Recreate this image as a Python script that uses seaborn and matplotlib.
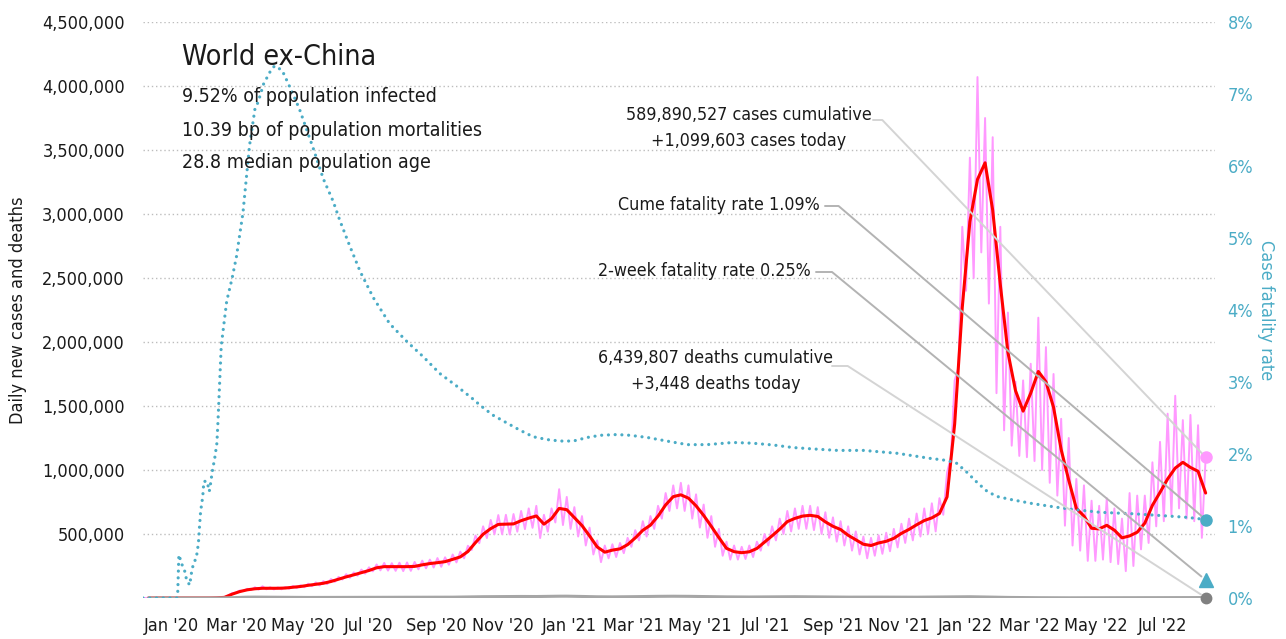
import numpy as np
import pandas as pd
import seaborn as sns
import matplotlib.pyplot as plt
import matplotlib.dates as mdates
from matplotlib import font_manager
from matplotlib.ticker import FuncFormatter

# 7-day average of daily new cases (thousands), one value per week from 6 Jan 2020
avg_cases = [0, 0, 0, 0, 0, 0, 0, 0, 0, 1,
             5, 30, 50, 64, 72, 76, 76, 76, 78, 84,
             90, 99, 107, 115, 129, 147, 165, 181, 198, 215,
             236, 245, 245, 245, 245, 247, 259, 269, 276, 284,
             302, 321, 363, 433, 498, 542, 575, 577, 579, 604,
             624, 641, 577, 620, 700, 690, 628, 566, 485, 399,
             358, 374, 384, 417, 469, 529, 569, 640, 727, 792,
             806, 780, 720, 645, 560, 472, 388, 362, 354, 361,
             387, 436, 486, 538, 597, 622, 640, 646, 637, 595,
             560, 535, 490, 455, 420, 410, 430, 443, 466, 505,
             536, 572, 605, 626, 660, 790, 1360, 2270, 2940, 3270,
             3400, 3030, 2450, 1920, 1620, 1460, 1600, 1770, 1690, 1490,
             1160, 920, 700, 640, 545, 540, 568, 530, 470, 485,
             514, 585, 724, 825, 930, 1015, 1060, 1020, 990, 820]

# daily new cases (thousands): weekly low day and high day
daily_lo = [0, 0, 0, 0, 0, 0, 0, 0, 0, 0,
            2, 20, 42, 55, 62, 66, 68, 67, 68, 72,
            78, 84, 92, 98, 108, 126, 144, 158, 174, 190,
            208, 216, 214, 212, 210, 212, 224, 232, 238, 244,
            260, 278, 310, 375, 428, 468, 498, 498, 496, 518,
            538, 548, 468, 518, 590, 570, 540, 480, 410, 340,
            280, 310, 320, 350, 400, 450, 480, 540, 620, 680,
            700, 680, 620, 550, 470, 400, 330, 300, 300, 305,
            320, 370, 410, 450, 500, 520, 540, 540, 530, 500,
            470, 440, 410, 370, 340, 310, 330, 345, 365, 395,
            430, 450, 480, 500, 520, 650, 1100, 1800, 2400, 2500,
            2700, 2300, 1600, 1310, 1190, 1110, 1100, 1070, 1000, 900,
            800, 565, 410, 370, 290, 290, 300, 280, 265, 210,
            250, 380, 430, 560, 600, 650, 700, 620, 600, 470]
daily_hi = [0, 0, 0, 0, 0, 0, 0, 0, 1, 2,
            8, 38, 58, 72, 84, 92, 84, 83, 86, 94,
            100, 112, 122, 132, 148, 165, 186, 200, 222, 240,
            262, 274, 272, 276, 278, 282, 292, 300, 312, 318,
            340, 362, 408, 488, 560, 610, 648, 650, 656, 680,
            700, 720, 650, 700, 850, 790, 710, 640, 550, 450,
            410, 420, 430, 470, 530, 600, 640, 720, 820, 880,
            900, 880, 810, 730, 640, 540, 440, 410, 400, 410,
            440, 500, 560, 620, 680, 700, 720, 720, 710, 670,
            630, 600, 560, 520, 480, 470, 490, 510, 540, 580,
            620, 660, 700, 740, 780, 980, 1700, 2900, 3440, 4070,
            3750, 3600, 2900, 2230, 1690, 1700, 1830, 2190, 1960, 1750,
            1400, 1250, 930, 880, 760, 720, 780, 700, 620, 820,
            800, 800, 1060, 1220, 1440, 1580, 1390, 1430, 1350, 1100]

# daily deaths (thousands), weekly
deaths = [0, 0, 0, 0, 0, 0, 0, 0, 0.05, 0.3,
          1.0, 2.5, 4.5, 6.5, 7.0, 6.5, 6.0, 5.3, 4.8, 4.5,
          4.3, 4.3, 4.4, 4.6, 4.8, 4.9, 5.0, 5.2, 5.4, 5.6,
          5.8, 5.8, 5.7, 5.6, 5.5, 5.4, 5.3, 5.4, 5.6, 5.8,
          6.5, 7.5, 8.5, 9.5, 10.0, 10.5, 11.0, 11.5, 11.8, 12.0,
          11.8, 11.5, 12.5, 13.5, 14.0, 14.2, 13.5, 12.0, 10.5, 9.5,
          9.0, 8.8, 9.2, 9.8, 10.5, 11.5, 12.5, 13.0, 13.5, 13.8,
          13.5, 13.0, 12.0, 11.0, 10.0, 9.5, 8.8, 8.3, 8.0, 7.8,
          8.2, 8.8, 9.5, 10.0, 10.2, 10.0, 9.5, 8.8, 8.2, 7.6,
          7.0, 6.8, 6.8, 7.0, 7.2, 7.2, 7.0, 6.8, 6.5, 6.5,
          6.3, 6.4, 7.0, 7.5, 8.5, 9.5, 10.0, 10.2, 9.8, 9.0,
          8.0, 6.8, 5.5, 4.5, 3.8, 3.3, 2.8, 2.4, 2.0, 1.8,
          1.7, 1.6, 1.7, 1.8, 1.9, 2.0, 2.0, 2.1, 2.2, 2.3,
          2.3, 2.4, 2.5, 2.6, 2.8, 3.0, 3.3, 3.4, 3.5, 3.448]

# case fatality rate (%), days counted from 1 Jan 2020
cfr_day = [0, 31, 32, 33, 36, 39, 40, 43, 45, 47,
           49, 51, 52, 53, 55, 56, 59, 61, 62, 64,
           66, 68, 69, 70, 72, 77, 82, 86, 92, 98,
           103, 106, 111, 117, 121, 128, 132, 138, 144, 151,
           157, 166, 175, 181, 190, 200, 212, 227, 243, 258,
           273, 289, 304, 310, 322, 335, 347, 359, 372, 384,
           396, 409, 421, 436, 448, 464, 482, 501, 519, 543,
           561, 580, 598, 617, 639, 663, 694, 724, 740, 749,
           758, 768, 777, 786, 798, 819, 850, 881, 911, 942,
           961, 978]
cfr_pct = [0, 0, 0.09, 0.6, 0.46, 0.35, 0.25, 0.18, 0.39, 0.5,
           0.55, 0.76, 0.99, 1.2, 1.41, 1.62, 1.62, 1.48, 1.57, 1.78,
           1.94, 2.15, 2.45, 2.8, 3.5, 4.12, 4.44, 4.74, 5.35, 6.28,
           6.79, 6.89, 7.14, 7.31, 7.39, 7.33, 7.2, 7.0, 6.79, 6.49,
           6.23, 5.82, 5.51, 5.25, 4.9, 4.53, 4.17, 3.81, 3.56, 3.35,
           3.12, 2.94, 2.76, 2.68, 2.54, 2.43, 2.33, 2.24, 2.20, 2.18,
           2.18, 2.23, 2.26, 2.27, 2.26, 2.23, 2.18, 2.13, 2.13, 2.16,
           2.15, 2.125, 2.09, 2.07, 2.05, 2.05, 2.01, 1.94, 1.91, 1.87,
           1.75, 1.60, 1.48, 1.41, 1.37, 1.31, 1.24, 1.19, 1.17, 1.14,
           1.12, 1.09]
two_week_cfr = 0.25

title = 'World ex-China'
subtitle = ['9.52% of population infected',
            '10.39 bp of population mortalities',
            '28.8 median population age']
notes = {'cases': '589,890,527 cases cumulative\n+1,099,603 cases today',
         'cume': 'Cume fatality rate 1.09%',
         'two_week': '2-week fatality rate 0.25%',
         'deaths': '6,439,807 deaths cumulative\n+3,448 deaths today'}

PINK, RED, TEAL, GREY = '#ff99ff', '#ff0000', '#4bacc6', '#a6a6a6'
W, H = 1286, 639

start = pd.Timestamp('2020-01-01')
week_dates = start + pd.to_timedelta(5 + 7 * np.arange(len(avg_cases)), unit='D')
lo_dates = week_dates - pd.Timedelta(hours=84)
pink_dates = np.ravel(np.column_stack([lo_dates.values, week_dates.values]))
pink_vals = np.ravel(np.column_stack([daily_lo, daily_hi])) * 1000
cfr_dates = start + pd.to_timedelta(cfr_day, unit='D')
last = mdates.date2num(week_dates[-1])

# a narrow face if one is installed, like the condensed font of the original
narrow = [f for f in font_manager.fontManager.ttflist
          if ('Condensed' in f.name or 'Narrow' in f.name
              or f.stretch in ('condensed', 'semi-condensed')) and f.style == 'normal']
sns.set_theme(style='white')
if narrow:
    plt.rcParams['font.family'] = [narrow[0].name, 'DejaVu Sans']
    plt.rcParams['font.stretch'] = narrow[0].stretch
else:
    plt.rcParams['font.family'] = ['Roboto', 'DejaVu Sans']
plt.rcParams['text.color'] = '#1a1a1a'

fig = plt.figure(figsize=(W / 100, H / 100), dpi=100)
ax = fig.add_axes([143 / W, 41 / H, 1072 / W, 576 / H])
ax2 = ax.twinx()

sns.lineplot(x=pink_dates, y=pink_vals, ax=ax, color=PINK, lw=1.4, errorbar=None)
sns.lineplot(x=week_dates, y=np.array(avg_cases) * 1000, ax=ax, color=RED, lw=2.2, errorbar=None)
sns.lineplot(x=week_dates, y=np.array(deaths) * 1000, ax=ax, color=GREY, lw=2.2, errorbar=None)
sns.lineplot(x=cfr_dates, y=cfr_pct, ax=ax2, color=TEAL, lw=2.3, errorbar=None,
             linestyle=(0, (0.01, 2.1)), dash_capstyle='round')

# end-of-series markers
ax.plot([last], [daily_hi[-1] * 1000], 'o', color=PINK, ms=8, clip_on=False, zorder=6)
ax.plot([last], [deaths[-1] * 1000], 'o', color='#808080', ms=7.5, clip_on=False, zorder=6)
ax2.plot([last], [cfr_pct[-1]], 'o', color=TEAL, ms=8, clip_on=False, zorder=6)
ax2.plot([last], [two_week_cfr], '^', color=TEAL, ms=10, clip_on=False, zorder=6)

ax.set_xlim(start, start + pd.Timedelta(days=986.6))
ax.set_ylim(0, 4500000)
ax2.set_ylim(0, 8)

months = pd.date_range('2020-01-01', '2022-07-01', freq='2MS')
ax.set_xticks(months + pd.Timedelta(days=26))
ax.set_xticklabels([m.strftime("%b '%y") for m in months])
ax.set_yticks(range(500000, 4500001, 500000))
ax.yaxis.set_major_formatter(FuncFormatter(lambda v, p: f'{v:,.0f}'))
ax2.set_yticks(range(0, 9))
ax2.yaxis.set_major_formatter(FuncFormatter(lambda v, p: f'{v:.0f}%'))

ax.yaxis.grid(True, linestyle=(0, (1, 2)), color='#bdbdbd', lw=1)
ax.xaxis.grid(False)
ax2.grid(False)
for a in (ax, ax2):
    for s in a.spines.values():
        s.set_visible(False)
ax.tick_params(axis='both', length=0, labelsize=13, colors='#1a1a1a')
ax.tick_params(axis='y', pad=13)
ax.tick_params(axis='x', pad=14)
ax2.tick_params(axis='y', length=0, labelsize=13, labelcolor=TEAL, pad=9)

ax.set_xlabel('')
ax.set_ylabel('Daily new cases and deaths', fontsize=13, color='#1a1a1a')
ax.yaxis.label.set_va('center')
ax.yaxis.set_label_coords((18 - 143) / 1072, 0.5)
ax2.set_ylabel('Case fatality rate', fontsize=13, color=TEAL, rotation=270)
ax2.yaxis.label.set_va('center')
ax2.yaxis.set_label_coords((1266 - 143) / 1072, 0.5)

fig.text(182 / W, 1 - 57 / H, title, fontsize=20.5, va='center', ha='left')
for i, line in enumerate(subtitle):
    fig.text(182 / W, 1 - (97 + 33 * i) / H, line, fontsize=14, va='center', ha='left')

fig.text(749 / W, 1 - 128 / H, notes['cases'], fontsize=12.8, va='center', ha='center', linespacing=1.55)
fig.text(820 / W, 1 - 205 / H, notes['cume'], fontsize=12.8, va='center', ha='right')
fig.text(811 / W, 1 - 271 / H, notes['two_week'], fontsize=12.8, va='center', ha='right')
fig.text(716 / W, 1 - 371 / H, notes['deaths'], fontsize=12.8, va='center', ha='center', linespacing=1.55)

# leader lines from the notes to the last values
leaders = [(ax.transData, daily_hi[-1] * 1000, 873, 120, -46.2, '#d4d4d4'),
           (ax2.transData, cfr_pct[-1], 825, 206, -40.5, '#b3b3b3'),
           (ax2.transData, two_week_cfr, 816, 272, -39.5, '#b3b3b3'),
           (ax.transData, deaths[-1] * 1000, 832, 366, -32.9, '#d4d4d4')]
for tr, val, sx, sy, ang, col in leaders:
    ax2.annotate('', xy=(last, val), xycoords=tr, xytext=(sx / W, 1 - sy / H),
                 textcoords='figure fraction',
                 arrowprops=dict(arrowstyle='-', color=col, lw=1.4, shrinkA=0, shrinkB=4,
                                 connectionstyle=f'angle,angleA=0,angleB={ang},rad=0'))

fig.savefig('out.png', dpi=100)
